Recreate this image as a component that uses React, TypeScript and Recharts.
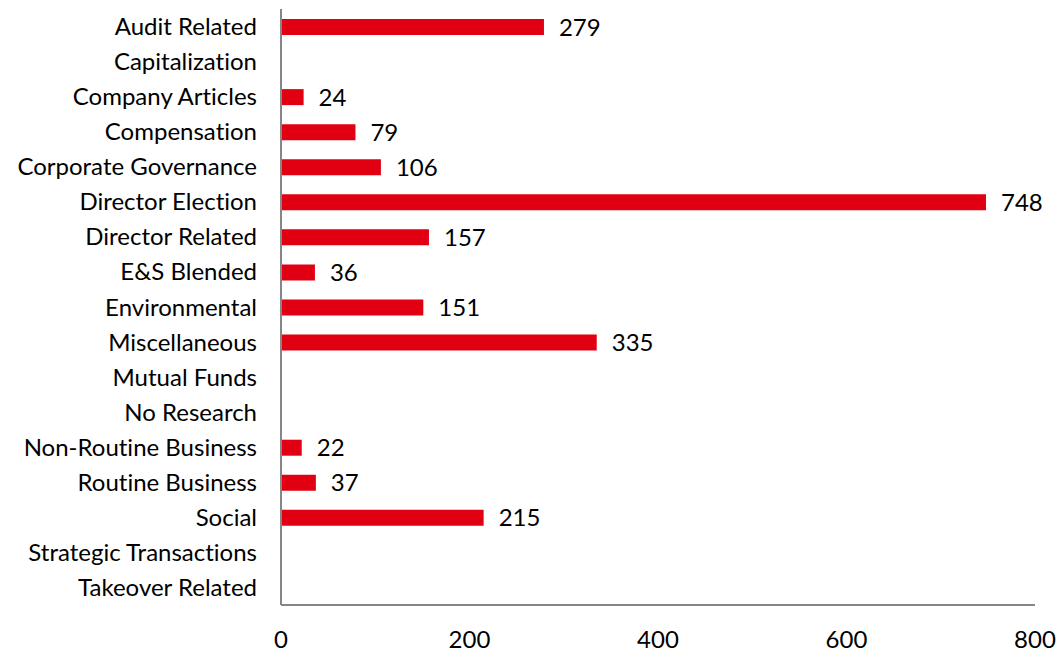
import { Bar, BarChart, LabelList, XAxis, YAxis } from "recharts";

const categories = [
  "Audit Related",
  "Capitalization",
  "Company Articles",
  "Compensation",
  "Corporate Governance",
  "Director Election",
  "Director Related",
  "E&S Blended",
  "Environmental",
  "Miscellaneous",
  "Mutual Funds",
  "No Research",
  "Non-Routine Business",
  "Routine Business",
  "Social",
  "Strategic Transactions",
  "Takeover Related",
];

// null = no bar drawn
const counts: (number | null)[] = [279, null, 24, 79, 106, 748, 157, 36, 151, 335, null, null, 22, 37, 215, null, null];

const xTicks = [0, 200, 400, 600, 800];

const data = categories.map((name, i) => ({ name, value: counts[i] }));

const FONT = "Lato, 'Open Sans', sans-serif";

export default function App() {
  return (
    <div
      style={{
        position: "fixed",
        top: 0,
        left: 0,
        width: 1060,
        height: 655,
        background: "#fff",
        fontFamily: FONT,
        fontVariantLigatures: "none",
        overflow: "hidden",
      }}
    >
      <BarChart
        width={1060}
        height={655}
        data={data}
        layout="vertical"
        margin={{ top: 9, right: 25, left: 0, bottom: 0 }}
      >
        <XAxis
          type="number"
          domain={[0, 800]}
          ticks={xTicks}
          axisLine={{ stroke: "#868686", strokeWidth: 2 }}
          tickLine={false}
          tickMargin={20}
          tick={{ fill: "#000", fontSize: 24, fontFamily: FONT }}
          height={50}
          interval={0}
        />
        <YAxis
          type="category"
          dataKey="name"
          width={281}
          axisLine={{ stroke: "#868686", strokeWidth: 2 }}
          tickLine={false}
          tickMargin={18}
          tick={{ fill: "#000", fontSize: 24, fontFamily: FONT }}
          interval={0}
        />
        <Bar dataKey="value" fill="#E00012" barSize={16} isAnimationActive={false}>
          <LabelList
            dataKey="value"
            position="right"
            offset={15}
            fill="#000"
            fontSize={24}
            fontFamily={FONT}
          />
        </Bar>
      </BarChart>
    </div>
  );
}
